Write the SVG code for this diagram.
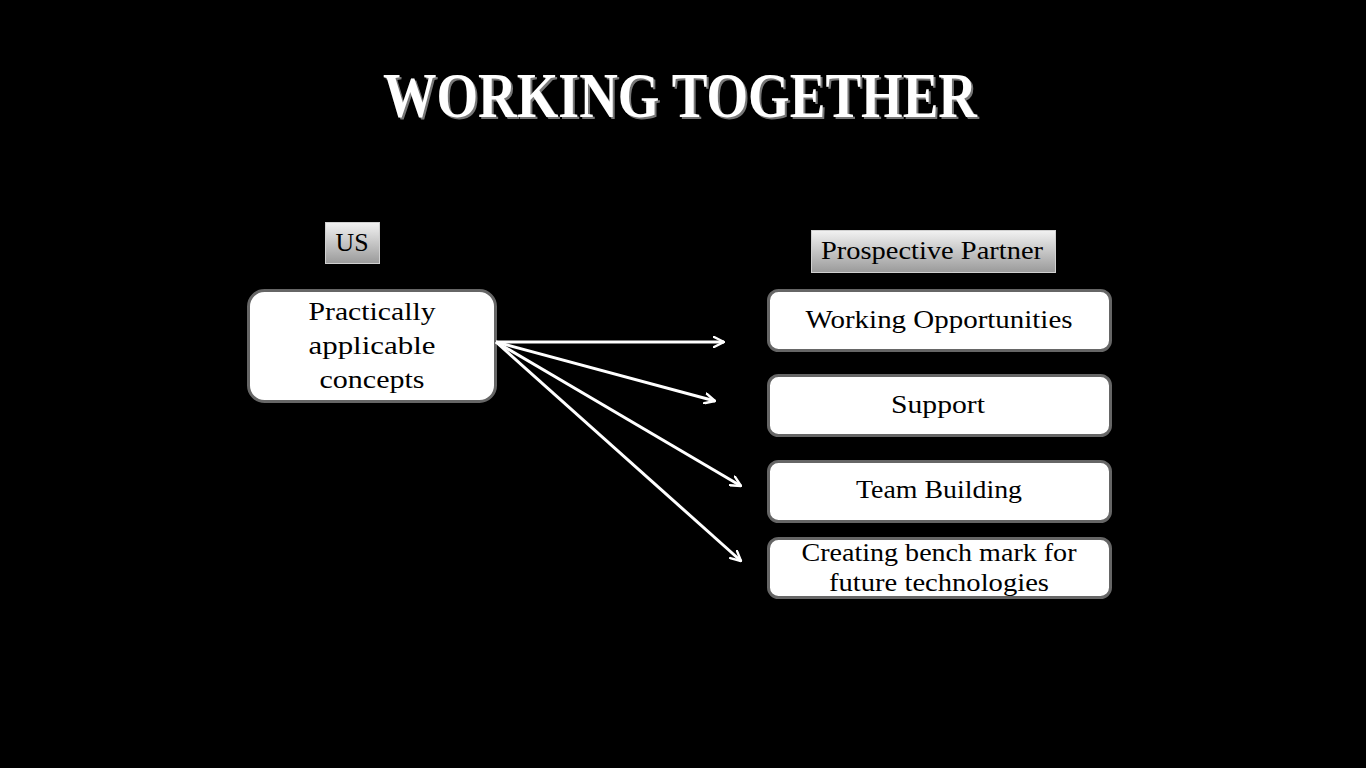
<svg xmlns="http://www.w3.org/2000/svg" width="1366" height="768" viewBox="0 0 1366 768">
<defs>
<linearGradient id="lg" x1="0" y1="0" x2="0" y2="1">
<stop offset="0" stop-color="#f2f2f2"/>
<stop offset="1" stop-color="#9a9a9a"/>
</linearGradient>
<marker id="ah" viewBox="0 0 12 12" refX="11" refY="6" markerWidth="12" markerHeight="12" markerUnits="userSpaceOnUse" orient="auto">
<path d="M1,1 L11,6 L1,11" fill="none" stroke="#fff" stroke-width="2.4" stroke-linecap="round" stroke-linejoin="round"/>
</marker>
<style>
.t{font-family:"Liberation Serif","DejaVu Serif",serif;font-size:26px;fill:#000;text-anchor:middle}
.box{fill:#fff;stroke:#666;stroke-width:3}
.lab{fill:url(#lg);stroke:#d0d0d0;stroke-width:1}
.c{stroke:#fff;stroke-width:3;fill:none;marker-end:url(#ah)}
</style>
</defs>
<rect width="1366" height="768" fill="#000"/>
<g id="title">
<text x="682" y="119" font-family="Liberation Serif,serif" font-weight="bold" font-size="64" fill="#777" text-anchor="middle" textLength="594" lengthAdjust="spacingAndGlyphs">WORKING TOGETHER</text>
<text x="680" y="117" font-family="Liberation Serif,serif" font-weight="bold" font-size="64" fill="#fff" text-anchor="middle" textLength="594" lengthAdjust="spacingAndGlyphs">WORKING TOGETHER</text>
</g>
<g id="us">
<rect class="lab" x="325.5" y="222.5" width="54" height="41"/>
<text class="t" x="352" y="251" textLength="33" lengthAdjust="spacingAndGlyphs">US</text>
</g>
<g id="partner">
<rect class="lab" x="811.5" y="230.5" width="244" height="42"/>
<text class="t" x="932" y="259" textLength="222" lengthAdjust="spacingAndGlyphs">Prospective Partner</text>
</g>
<g id="source">
<rect class="box" x="248.5" y="290.5" width="247" height="111" rx="16"/>
<text class="t" x="372" y="320" textLength="127" lengthAdjust="spacingAndGlyphs">Practically</text>
<text class="t" x="372" y="354" textLength="127" lengthAdjust="spacingAndGlyphs">applicable</text>
<text class="t" x="372" y="388" textLength="105" lengthAdjust="spacingAndGlyphs">concepts</text>
</g>
<g id="n1">
<rect class="box" x="768.5" y="290.5" width="342" height="60" rx="10"/>
<text class="t" x="939" y="328" textLength="267" lengthAdjust="spacingAndGlyphs">Working Opportunities</text>
</g>
<g id="n2">
<rect class="box" x="768.5" y="375.5" width="342" height="60" rx="10"/>
<text class="t" x="938" y="413" textLength="94" lengthAdjust="spacingAndGlyphs">Support</text>
</g>
<g id="n3">
<rect class="box" x="768.5" y="461.5" width="342" height="60" rx="10"/>
<text class="t" x="939" y="498" textLength="166" lengthAdjust="spacingAndGlyphs">Team Building</text>
</g>
<g id="n4">
<rect class="box" x="768.5" y="538.5" width="342" height="59" rx="10"/>
<text class="t" x="939" y="561" textLength="275" lengthAdjust="spacingAndGlyphs">Creating bench mark for</text>
<text class="t" x="939" y="591" textLength="220" lengthAdjust="spacingAndGlyphs">future technologies</text>
</g>
<g id="connectors">
<line class="c" x1="496" y1="342" x2="724" y2="342"/>
<line class="c" x1="496" y1="342" x2="715" y2="401"/>
<line class="c" x1="496" y1="342" x2="741" y2="486"/>
<line class="c" x1="496" y1="342" x2="741" y2="561"/>
</g>
</svg>
